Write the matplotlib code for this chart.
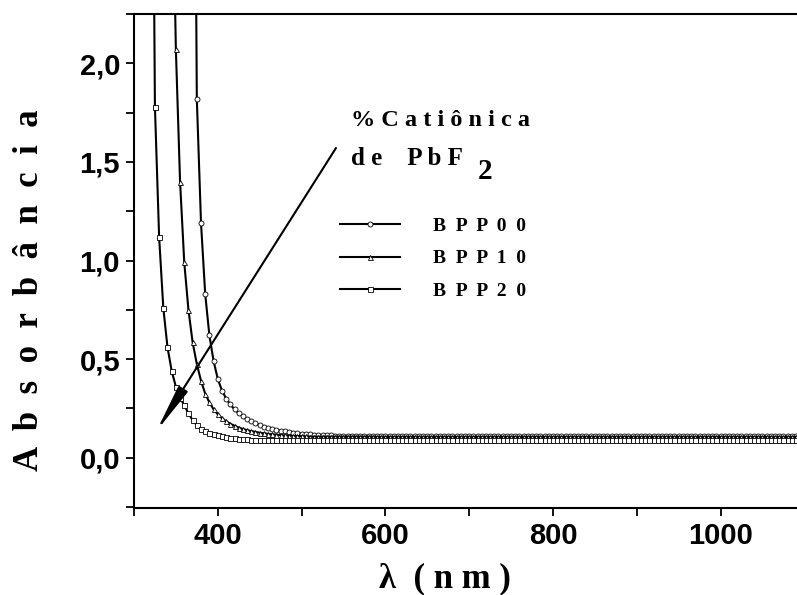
import numpy as np
import matplotlib
matplotlib.use('Agg')
import matplotlib.pyplot as plt
from matplotlib.ticker import MultipleLocator, FixedLocator

# Absorption spectra, 5 nm steps
bpp00_start = 370
bpp00 = [5.0, 1.82, 1.19, 0.83, 0.62, 0.49, 0.40, 0.34, 0.30, 0.27, 0.245, 0.225,
         0.21, 0.195, 0.185, 0.175, 0.165, 0.158, 0.152, 0.146, 0.141, 0.137, 0.133,
         0.130, 0.127, 0.124, 0.122, 0.120, 0.118, 0.117, 0.116, 0.115, 0.114, 0.113,
         0.112,
         0.111, 0.111, 0.111, 0.111, 0.111, 0.111, 0.111, 0.111, 0.111, 0.111, 0.111, 0.111, 0.111, 0.111, 0.111, 0.111,
         0.110, 0.110, 0.110, 0.110, 0.110, 0.110, 0.110, 0.110, 0.110, 0.110, 0.110, 0.110, 0.110, 0.110, 0.110, 0.110,
         0.110, 0.110, 0.110, 0.110, 0.110, 0.110, 0.110, 0.110, 0.110, 0.110, 0.110, 0.110, 0.110, 0.110, 0.110, 0.110,
         0.110, 0.110, 0.110, 0.110, 0.110, 0.110, 0.110, 0.110, 0.110, 0.110, 0.110, 0.110, 0.110, 0.110, 0.110, 0.110,
         0.110, 0.110, 0.110, 0.110, 0.110, 0.110, 0.110, 0.110, 0.110, 0.110, 0.110, 0.110, 0.110, 0.110, 0.110, 0.110,
         0.110, 0.110, 0.110, 0.110, 0.110, 0.110, 0.110, 0.110, 0.110, 0.110, 0.110, 0.110, 0.110, 0.110, 0.110, 0.110,
         0.110, 0.110, 0.110, 0.110, 0.110, 0.110, 0.110, 0.110, 0.110, 0.110, 0.110, 0.110, 0.110, 0.110, 0.110, 0.110]

bpp10_start = 345
bpp10 = [3.2, 2.07, 1.40, 0.99, 0.75, 0.585, 0.475, 0.39, 0.325, 0.28, 0.245, 0.22,
         0.20, 0.185, 0.172, 0.162, 0.153, 0.146, 0.140, 0.135, 0.131, 0.127, 0.124,
         0.121, 0.119, 0.117, 0.115, 0.113, 0.112, 0.111, 0.110, 0.109, 0.108,
         0.107, 0.107, 0.107, 0.107, 0.107, 0.107, 0.107, 0.107, 0.107, 0.107, 0.107, 0.107, 0.107, 0.107, 0.107, 0.107,
         0.106, 0.106, 0.106, 0.106, 0.106, 0.106, 0.106, 0.106, 0.106, 0.106, 0.106, 0.106, 0.106, 0.106, 0.106, 0.106,
         0.106, 0.106, 0.106, 0.106, 0.106, 0.106, 0.106, 0.106, 0.106, 0.106, 0.106, 0.106, 0.106, 0.106, 0.106, 0.106,
         0.106, 0.106, 0.106, 0.106, 0.106, 0.106, 0.106, 0.106, 0.106, 0.106, 0.106, 0.106, 0.106, 0.106, 0.106, 0.106,
         0.106, 0.106, 0.106, 0.106, 0.106, 0.106, 0.106, 0.106, 0.106, 0.106, 0.106, 0.106, 0.106, 0.106, 0.106, 0.106,
         0.106, 0.106, 0.106, 0.106, 0.106, 0.106, 0.106, 0.106, 0.106, 0.106, 0.106, 0.106, 0.106, 0.106, 0.106, 0.106,
         0.106, 0.106, 0.106, 0.106, 0.106, 0.106, 0.106, 0.106, 0.106, 0.106, 0.106, 0.106, 0.106, 0.106, 0.106, 0.106,
         0.106, 0.106, 0.106, 0.106, 0.106, 0.106, 0.106]

bpp20_start = 320
bpp20 = [4.7, 1.78, 1.12, 0.76, 0.56, 0.44, 0.36, 0.305, 0.265, 0.225, 0.19, 0.165,
         0.148, 0.136, 0.127, 0.119, 0.113, 0.108, 0.104, 0.101, 0.098, 0.096, 0.094,
         0.093, 0.092, 0.091, 0.090,
         0.089, 0.089, 0.089, 0.089, 0.089, 0.089, 0.089, 0.089, 0.089, 0.089, 0.089, 0.089, 0.089, 0.089, 0.089, 0.089,
         0.089, 0.089, 0.089, 0.089, 0.089, 0.089, 0.089, 0.089, 0.089, 0.089, 0.089, 0.089, 0.089, 0.089, 0.089, 0.089,
         0.089, 0.089, 0.089, 0.089, 0.089, 0.089, 0.089, 0.089, 0.089, 0.089, 0.089, 0.089, 0.089, 0.089, 0.089, 0.089,
         0.089, 0.089, 0.089, 0.089, 0.089, 0.089, 0.089, 0.089, 0.089, 0.089, 0.089, 0.089, 0.089, 0.089, 0.089, 0.089,
         0.089, 0.089, 0.089, 0.089, 0.089, 0.089, 0.089, 0.089, 0.089, 0.089, 0.089, 0.089, 0.089, 0.089, 0.089, 0.089,
         0.089, 0.089, 0.089, 0.089, 0.089, 0.089, 0.089, 0.089, 0.089, 0.089, 0.089, 0.089, 0.089, 0.089, 0.089, 0.089,
         0.089, 0.089, 0.089, 0.089, 0.089, 0.089, 0.089, 0.089, 0.089, 0.089, 0.089, 0.089, 0.089, 0.089, 0.089, 0.089,
         0.089, 0.089, 0.089, 0.089, 0.089, 0.089, 0.089, 0.089, 0.089, 0.089, 0.089, 0.089, 0.089, 0.089, 0.089, 0.089,
         0.089, 0.089]

series_labels = ['B  P  P  0  0', 'B  P  P  1  0', 'B  P  P  2  0']
series_markers = ['o', '^', 's']

x_ticks = [400, 600, 800, 1000]
y_ticks = [0.0, 0.5, 1.0, 1.5, 2.0]
y_tick_labels = ['0,0', '0,5', '1,0', '1,5', '2,0']

serif = 'Liberation Serif'
sans = 'Liberation Sans'

fig = plt.figure(figsize=(7.97, 5.95), dpi=100)
ax = fig.add_axes([0.1681, 0.1462, 0.8411, 0.8303])

for start, vals, lab, mk in zip([bpp00_start, bpp10_start, bpp20_start],
                                [bpp00, bpp10, bpp20], series_labels, series_markers):
    wl = start + 5 * np.arange(len(vals))
    ax.plot(wl, vals, color='black', lw=1.5, marker=mk, ms=3.6,
            mfc='white', mec='black', mew=0.6, label=lab)

ax.set_xlim(300, 1100)
ax.set_ylim(-0.255, 2.25)

ax.xaxis.set_major_locator(FixedLocator(x_ticks))
ax.xaxis.set_minor_locator(MultipleLocator(100))
ax.yaxis.set_major_locator(FixedLocator(y_ticks))
ax.yaxis.set_minor_locator(MultipleLocator(0.25))
ax.set_yticklabels(y_tick_labels)

for sp in ['left', 'bottom', 'top']:
    ax.spines[sp].set_linewidth(1.5)
ax.spines['right'].set_visible(False)

ax.tick_params(which='both', direction='out', width=1.3, top=False, right=False)
ax.tick_params(which='major', length=6, pad=4)
ax.tick_params(which='minor', length=6)
for lbl in ax.get_xticklabels() + ax.get_yticklabels():
    lbl.set_fontfamily(sans)
    lbl.set_fontweight('bold')
    lbl.set_fontsize(21)

fig.text(0.037, 0.512, 'A  b  s  o  r  b  â  n  c  i  a', rotation=90, ha='center', va='center',
         family=serif, weight='bold', fontsize=25)
fig.text(0.558, 0.028, 'λ  ( n m )', ha='center', va='center',
         family=serif, weight='bold', fontsize=25)

fig.text(0.441, 0.798, '% C a t i ô n i c a', ha='left', va='center',
         family=serif, weight='bold', fontsize=17.5)
t_de = fig.text(0.441, 0.733, 'd e    P b F', ha='left', va='center',
                family=serif, weight='bold', fontsize=18)

# subscript 2 right after the F
fig.canvas.draw()
bb = t_de.get_window_extent(fig.canvas.get_renderer())
fig.text((bb.x1 + 14) / fig.bbox.width, 0.712, '2', ha='left', va='center',
         family=serif, weight='bold', fontsize=21)

ax.annotate('', xy=(156.5 / 797, 1 - 431 / 595), xycoords='figure fraction',
            xytext=(336 / 797, 1 - 148 / 595), textcoords='figure fraction',
            arrowprops=dict(arrowstyle='-|>,head_length=1.6,head_width=0.18',
                            color='black', lw=1.5, mutation_scale=18, shrinkA=0, shrinkB=0))

leg = ax.legend(loc='upper left', bbox_to_anchor=(340 / 797, 1 - 217 / 595),
                bbox_transform=fig.transFigure, frameon=False, borderpad=0,
                borderaxespad=0, handlelength=3.1, handletextpad=1.7, labelspacing=0.78,
                prop=dict(family=serif, weight='bold', size=14))

fig.savefig('out.png', dpi=100)
